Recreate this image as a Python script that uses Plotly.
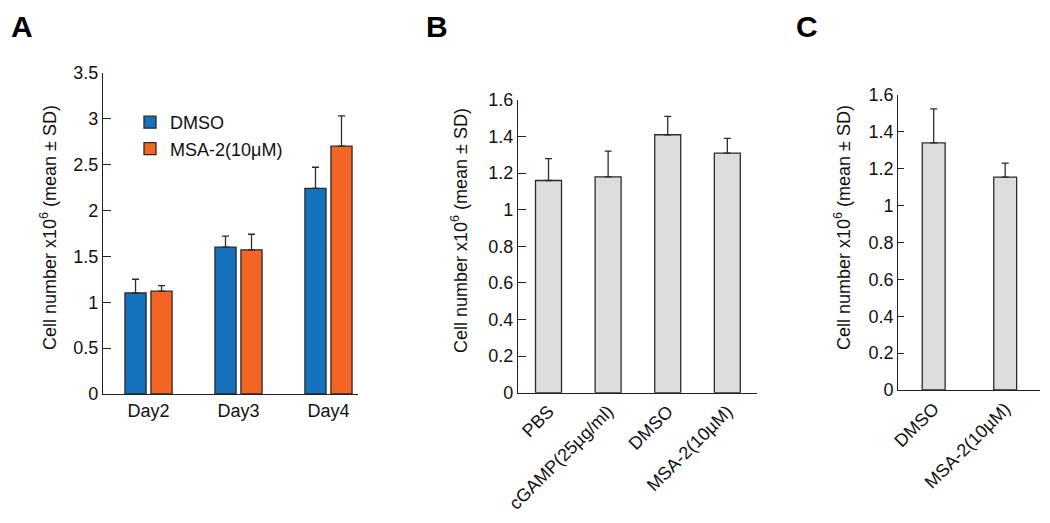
import plotly.graph_objects as go

# panel A - cell counts over time
days = ['Day2', 'Day3', 'Day4']
dmso_mean = [1.10, 1.60, 2.24]
dmso_sd = [0.15, 0.12, 0.23]
msa_mean = [1.12, 1.57, 2.70]
msa_sd = [0.06, 0.17, 0.33]

# panel B - treatments
b_groups = ['PBS', 'cGAMP(25\u00b5g/ml)', 'DMSO', 'MSA-2(10\u00b5M)']
b_mean = [1.16, 1.18, 1.41, 1.31]
b_sd = [0.12, 0.14, 0.10, 0.08]

# panel C
c_groups = ['DMSO', 'MSA-2(10\u00b5M)']
c_mean = [1.34, 1.155]
c_sd = [0.185, 0.075]

W, H = 1050, 523
FONT = 'Liberation Sans, Arial, sans-serif'
blue = '#1473BC'
orange = '#F26524'
grey = '#DCDDDC'
edge = '#2b2b2b'
ytitle = 'Cell number x10<sup>6</sup> (mean \u00b1 SD)'


def px(x):
    return x / W


def py(y):
    return (H - y) / H


def err(sd):
    return dict(type='data', array=sd, arrayminus=[0] * len(sd), symmetric=False,
                color=edge, thickness=1.3, width=3.5)


fig = go.Figure()
fig.add_trace(go.Bar(x=days, y=dmso_mean, name='DMSO', error_y=err(dmso_sd),
                     marker=dict(color=blue, line=dict(color=edge, width=1.3)),
                     offset=-0.262, width=0.235, xaxis='x', yaxis='y'))
fig.add_trace(go.Bar(x=days, y=msa_mean, name='MSA-2(10\u03bcM)', error_y=err(msa_sd),
                     marker=dict(color=orange, line=dict(color=edge, width=1.3)),
                     offset=0.027, width=0.235, xaxis='x', yaxis='y'))
fig.add_trace(go.Bar(x=b_groups, y=b_mean, error_y=err(b_sd), showlegend=False,
                     marker=dict(color=grey, line=dict(color=edge, width=1.3)),
                     width=0.436, xaxis='x2', yaxis='y2'))
fig.add_trace(go.Bar(x=c_groups, y=c_mean, error_y=err(c_sd), showlegend=False,
                     marker=dict(color=grey, line=dict(color=edge, width=1.3)),
                     width=0.32, xaxis='x3', yaxis='y3'))

xcommon = dict(showline=True, linecolor='#222', linewidth=1.2, ticks='', showgrid=False,
               zeroline=False, type='category', automargin=False,
               tickfont=dict(size=18, color='#111'))
ycommon = dict(showline=True, linecolor='#222', linewidth=1.2, ticks='inside', ticklen=8,
               tickcolor='#222', showgrid=False, zeroline=False, automargin=False,
               tickfont=dict(size=18, color='#111'))

fig.update_layout(
    width=W, height=H,
    margin=dict(l=0, r=0, t=0, b=0),
    plot_bgcolor='white', paper_bgcolor='white',
    font=dict(family=FONT, color='#111'),
    barmode='overlay',
    xaxis=dict(xcommon, domain=[px(103), px(358)], range=[-0.506, 2.328], anchor='y'),
    yaxis=dict(ycommon, domain=[py(394), py(72.7)], range=[0, 3.5], dtick=0.5, anchor='x'),
    xaxis2=dict(xcommon, domain=[px(518), px(757)], range=[-0.512, 3.498], anchor='y2',
                tickangle=-45),
    yaxis2=dict(ycommon, domain=[py(392.7), py(100)], range=[0, 1.6], dtick=0.2, anchor='x2'),
    xaxis3=dict(xcommon, domain=[px(898.3), px(1040)], range=[-0.495, 1.487], anchor='y3',
                tickangle=-45),
    yaxis3=dict(ycommon, domain=[py(390), py(95)], range=[0, 1.6], dtick=0.2, anchor='x3',
                ticklen=6),
    legend=dict(x=px(130), y=py(104), xanchor='left', yanchor='top',
                font=dict(size=18, color='#111'), bgcolor='rgba(0,0,0,0)',
                tracegroupgap=0),
)

# y axis titles as rotated text
for xp, yp in [(48, 228), (460, 231), (842, 228)]:
    fig.add_annotation(x=px(xp), y=py(yp), xref='paper', yref='paper', text=ytitle,
                       textangle=-90, showarrow=False, xanchor='center', yanchor='middle',
                       font=dict(size=18, color='#111'))

# panel letters
for lab, xp in [('A', 22), ('B', 437), ('C', 807)]:
    fig.add_annotation(x=px(xp), y=py(27), xref='paper', yref='paper', text='<b>%s</b>' % lab,
                       showarrow=False, xanchor='center', yanchor='middle',
                       font=dict(size=30, color='#000'))

fig.write_html("out.html", config={'displayModeBar': False},
               post_script="document.body.style.margin='0px';")
